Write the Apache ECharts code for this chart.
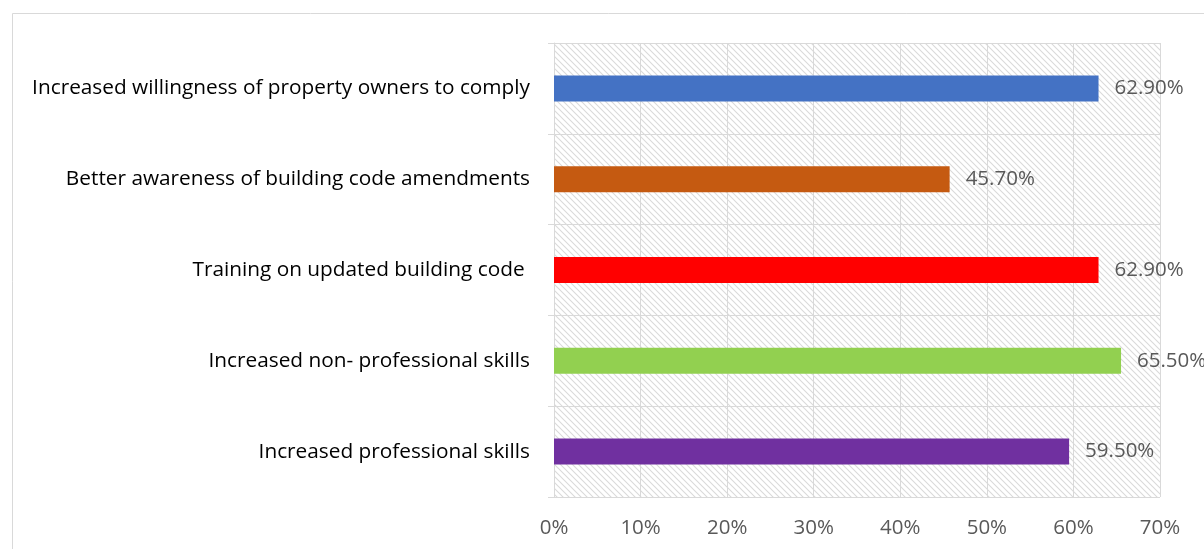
<!DOCTYPE html>
<html>
<head>
<meta charset="utf-8">
<script src="https://cdn.jsdelivr.net/npm/echarts@6/dist/echarts.min.js"></script>
<style>
  html, body { margin: 0; padding: 0; background: #fff; }
  #chart { width: 1204px; height: 549px; }
</style>
</head>
<body>
<div id="chart"></div>
<script>
// Outcome categories, listed bottom to top as drawn on the category axis
const categories = [
  'Increased professional skills',
  'Increased non- professional skills',
  'Training on updated building code ',
  'Better awareness of building code amendments',
  'Increased willingness of property owners to comply'
];
// Share of respondents (%)
const values = [59.5, 65.5, 62.9, 45.7, 62.9];
const barColors = ['#7030A0', '#92D050', '#FF0000', '#C55A11', '#4472C4'];
const xTicks = [0, 10, 20, 30, 40, 50, 60, 70];

// Diagonal hatch tile for the plot background
function hatchTile() {
  const c = document.createElement('canvas');
  c.width = 6; c.height = 6;
  const g = c.getContext('2d');
  g.fillStyle = '#ffffff';
  g.fillRect(0, 0, 6, 6);
  g.strokeStyle = '#dadada';
  g.lineWidth = 1.1;
  g.beginPath();
  g.moveTo(-1, -1); g.lineTo(7, 7);
  g.moveTo(-1, 5); g.lineTo(1, 7);
  g.moveTo(5, -1); g.lineTo(7, 1);
  g.stroke();
  return c;
}

const chart = echarts.init(document.getElementById('chart'), null, { renderer: 'canvas' });
const FONT = '"Open Sans", "Noto Sans", sans-serif';

chart.setOption({
  animation: false,
  backgroundColor: '#ffffff',
  textStyle: { fontFamily: FONT },
  graphic: [{
    type: 'rect',
    shape: { x: 12.5, y: 13.5, width: 1200, height: 560 },
    style: { fill: 'none', stroke: '#d9d9d9', lineWidth: 1 },
    silent: true
  }],
  grid: {
    left: 554, right: 44, top: 43, bottom: 52,
    show: true,
    backgroundColor: { image: hatchTile(), repeat: 'repeat' },
    borderWidth: 0
  },
  xAxis: {
    type: 'value',
    min: 0, max: 70, interval: 10,
    axisLine: { show: false },
    axisTick: { show: false },
    splitLine: { show: true, lineStyle: { color: '#d9d9d9', width: 1 } },
    axisLabel: {
      margin: 21,
      color: '#595959',
      fontSize: 20.5,
      fontFamily: FONT,
      formatter: v => xTicks.includes(v) ? v + '%' : ''
    }
  },
  yAxis: {
    type: 'category',
    data: categories,
    axisLine: { show: true, lineStyle: { color: '#d9d9d9', width: 1 } },
    axisTick: { show: true, length: 6, lineStyle: { color: '#d9d9d9' } },
    splitLine: { show: true, lineStyle: { color: '#d9d9d9', width: 1 } },
    axisLabel: {
      margin: 24,
      color: '#000000',
      fontSize: 20.8,
      fontFamily: FONT
    }
  },
  series: [{
    type: 'bar',
    barWidth: 26,
    data: values.map((v, i) => ({ value: v, itemStyle: { color: barColors[i] } })),
    label: {
      show: true,
      position: 'right',
      distance: 16,
      color: '#595959',
      fontSize: 20.5,
      fontFamily: FONT,
      formatter: p => p.value.toFixed(2) + '%'
    }
  }]
});
</script>
</body>
</html>
